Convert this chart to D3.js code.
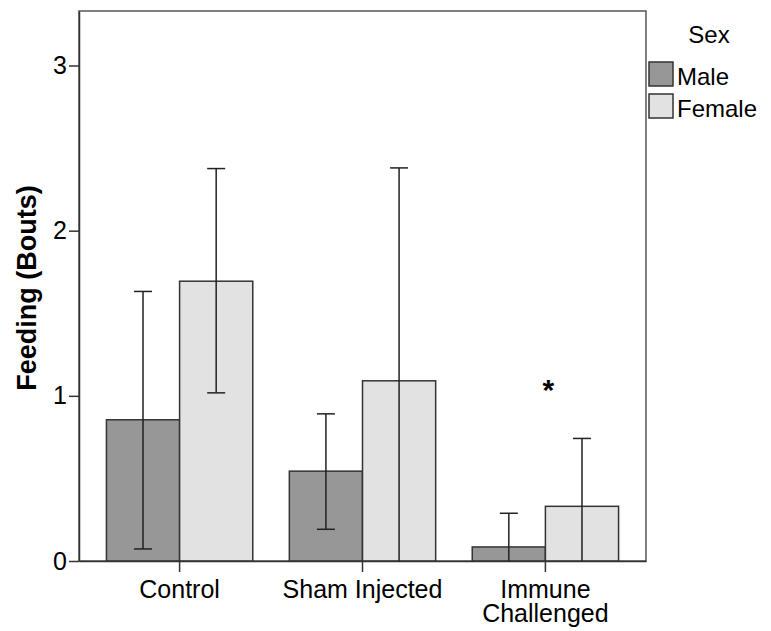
<!DOCTYPE html>
<html>
<head>
<meta charset="utf-8">
<script src="https://cdn.jsdelivr.net/npm/d3@7"></script>
<style>
  body { margin: 0; background: #fff; }
  text { font-family: "Liberation Sans", Arial, sans-serif; }
</style>
</head>
<body>
<script>
// data
var groups = ["Control", "Sham Injected", "Immune Challenged"];
var sexes = ["Male", "Female"];
var maleMean = [0.855, 0.544, 0.085];
var maleLow = [0.073, 0.192, -0.12];
var maleHigh = [1.632, 0.891, 0.289];
var femaleMean = [1.694, 1.091, 0.331];
var femaleLow = [1.018, -0.2, -0.08];
var femaleHigh = [2.376, 2.38, 0.742];
var yTicks = [0, 1, 2, 3];
var starGroup = "Immune Challenged";
var starValue = 0.975;

var width = 771, height = 631;
var plotLeft = 79, plotRight = 646, plotTop = 11, plotBottom = 561;

var fills = { Male: "#979797", Female: "#e2e2e2" };

var rows = [];
groups.forEach(function(g, i) {
  rows.push({ group: g, sex: "Male", mean: maleMean[i], lo: maleLow[i], hi: maleHigh[i] });
  rows.push({ group: g, sex: "Female", mean: femaleMean[i], lo: femaleLow[i], hi: femaleHigh[i] });
});

var svg = d3.select("body").append("svg")
  .attr("width", width)
  .attr("height", height);

var x = d3.scaleBand()
  .domain(groups)
  .range([plotLeft, plotRight])
  .paddingInner(0.2)
  .paddingOuter(0.15);

var xSub = d3.scaleBand()
  .domain(sexes)
  .range([0, x.bandwidth()]);

var y = d3.scaleLinear()
  .domain([0, 3.33])
  .range([plotBottom, plotTop]);

svg.append("clipPath").attr("id", "plot")
  .append("rect")
  .attr("x", plotLeft).attr("y", plotTop)
  .attr("width", plotRight - plotLeft).attr("height", plotBottom - plotTop);

// frame
svg.append("rect")
  .attr("x", plotLeft).attr("y", plotTop)
  .attr("width", plotRight - plotLeft).attr("height", plotBottom - plotTop)
  .attr("fill", "none")
  .attr("stroke", "#555")
  .attr("stroke-width", 1.5);

var plot = svg.append("g").attr("clip-path", "url(#plot)");

plot.selectAll(".bar")
  .data(rows)
  .enter()
  .append("rect")
  .attr("class", "bar")
  .attr("x", function(d) { return x(d.group) + xSub(d.sex); })
  .attr("y", function(d) { return y(d.mean); })
  .attr("width", xSub.bandwidth())
  .attr("height", function(d) { return y(0) - y(d.mean); })
  .attr("fill", function(d) { return fills[d.sex]; })
  .attr("stroke", "#333")
  .attr("stroke-width", 1.5);

var err = plot.selectAll(".err")
  .data(rows)
  .enter()
  .append("g")
  .attr("class", "err")
  .attr("stroke", "#222")
  .attr("stroke-width", 1.5);

var cx = function(d) { return x(d.group) + xSub(d.sex) + xSub.bandwidth() / 2; };

err.append("line")
  .attr("x1", cx).attr("x2", cx)
  .attr("y1", function(d) { return y(d.lo); })
  .attr("y2", function(d) { return y(d.hi); });

err.append("line")
  .attr("x1", function(d) { return cx(d) - 9; })
  .attr("x2", function(d) { return cx(d) + 9; })
  .attr("y1", function(d) { return y(d.hi); })
  .attr("y2", function(d) { return y(d.hi); });

err.append("line")
  .attr("x1", function(d) { return cx(d) - 9; })
  .attr("x2", function(d) { return cx(d) + 9; })
  .attr("y1", function(d) { return y(d.lo); })
  .attr("y2", function(d) { return y(d.lo); });

// axes
var yAxis = svg.append("g")
  .attr("transform", "translate(" + plotLeft + ",0)")
  .call(d3.axisLeft(y).tickValues(yTicks).tickFormat(d3.format("d"))
    .tickSize(10).tickSizeOuter(0).tickPadding(2));
yAxis.select(".domain").attr("stroke", "#333").attr("stroke-width", 1.5);
yAxis.selectAll(".tick line").attr("stroke", "#333").attr("stroke-width", 1.5);
yAxis.selectAll(".tick text")
  .attr("font-size", 25)
  .attr("fill", "#000")
  .attr("font-family", "Liberation Sans, Arial, sans-serif");

var xAxis = svg.append("g")
  .attr("transform", "translate(0," + plotBottom + ")")
  .call(d3.axisBottom(x).tickSize(11).tickSizeOuter(0).tickFormat(""));
xAxis.select(".domain").attr("stroke", "#333").attr("stroke-width", 1.5);
xAxis.selectAll(".tick line").attr("stroke", "#333").attr("stroke-width", 1.5);

xAxis.selectAll(".tick").append("text")
  .attr("fill", "#000")
  .attr("font-size", 25)
  .attr("font-family", "Liberation Sans, Arial, sans-serif")
  .attr("text-anchor", "middle")
  .each(function(d) {
    var words = d === "Immune Challenged" ? ["Immune", "Challenged"] : [d];
    var t = d3.select(this);
    words.forEach(function(w, i) {
      t.append("tspan").attr("x", 0).attr("y", 37 + i * 24).text(w);
    });
  });

svg.append("text")
  .attr("transform", "translate(36,288) rotate(-90)")
  .attr("text-anchor", "middle")
  .attr("font-size", 27)
  .attr("font-weight", "bold")
  .text("Feeding (Bouts)");

// significance mark
svg.append("text")
  .attr("x", x(starGroup) + x.bandwidth() / 2 + 3)
  .attr("y", y(starValue))
  .attr("text-anchor", "middle")
  .attr("font-size", 30)
  .attr("font-weight", "bold")
  .text("*");

// legend
var legend = svg.append("g");
legend.append("text")
  .attr("x", 709).attr("y", 43)
  .attr("text-anchor", "middle")
  .attr("font-size", 24)
  .text("Sex");

var item = legend.selectAll(".item")
  .data(sexes)
  .enter()
  .append("g")
  .attr("transform", function(d, i) { return "translate(649," + (62 + i * 32) + ")"; });

item.append("rect")
  .attr("width", 24).attr("height", 24)
  .attr("fill", function(d) { return fills[d]; })
  .attr("stroke", "#333")
  .attr("stroke-width", 1.5);

item.append("text")
  .attr("x", 28).attr("y", 23)
  .attr("font-size", 24)
  .text(function(d) { return d; });
</script>
</body>
</html>
